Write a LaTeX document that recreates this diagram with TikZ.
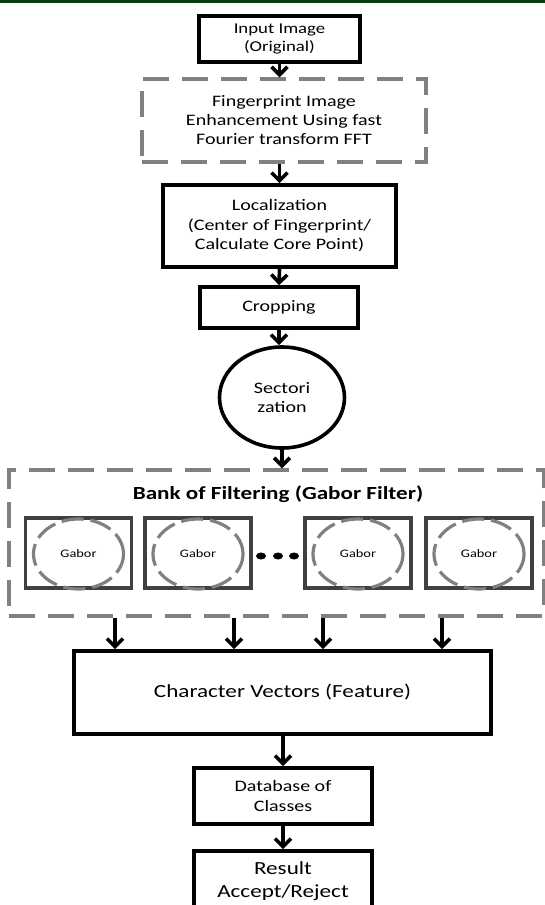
\documentclass[tikz,border=0pt]{standalone}
\usepackage{fontspec}
\setmainfont{Carlito}[FakeStretch=1.25]
\usetikzlibrary{arrows.meta,shapes.geometric}

\definecolor{topgreen}{RGB}{8,62,16}
\definecolor{dashgray}{RGB}{128,128,128}
\definecolor{boxgray}{RGB}{64,64,64}

\tikzset{
  blk/.style={draw=black, line width=3.6pt, inner sep=0pt, align=center, font=\fontsize{16}{19.5}\selectfont},
  bigtxt/.style={font=\fontsize{18.5}{23}\selectfont},
  dbox/.style={draw=dashgray, line width=3.4pt, dash pattern=on 26pt off 13pt, inner sep=0pt, align=center, font=\fontsize{16}{19}\selectfont},
  gbox/.style={draw=boxgray, line width=3.2pt, minimum width=106pt, minimum height=70pt},
  gell/.style={ellipse, draw=dashgray, line width=3.2pt, dash pattern=on 22pt off 7pt, minimum width=90pt, minimum height=70pt, inner sep=0pt, font=\fontsize{11.5}{13}\selectfont},
  arr/.style={-{Straight Barb[length=8pt,width=16pt]}, line width=3.6pt}
}

\begin{document}
\begin{tikzpicture}[x=1pt, y=-1pt]

\clip (0,0) rectangle (545,905);
\fill[topgreen] (0,0) rectangle (545,2.5);

\node[blk, minimum width=161pt, minimum height=46pt, font=\fontsize{15}{18}\selectfont] (inp) at (279.5,39) {Input Image\\(Original)};

\node[dbox, minimum width=284pt, minimum height=83pt] (fft) at (284,120.5) {Fingerprint Image\\Enhancement Using fast\\Fourier transform FFT};

\node[blk, minimum width=233pt, minimum height=82pt] (loc) at (279.5,226) {Localization\\(Center of Fingerprint/\\Calculate Core Point)};

\node[blk, minimum width=158pt, minimum height=41pt] (crop) at (279,307.5) {Cropping};

\node[blk, ellipse, minimum width=125pt, minimum height=101pt] (sect) at (282,397.5) {Sectori\\zation};

\node[dbox, minimum width=535pt, minimum height=146pt] (bank) at (276.5,543) {};
\node[font=\fontsize{18.5}{22}\selectfont\bfseries] (banktitle) at (278,494) {Bank of Filtering (Gabor Filter)};

\foreach \n/\x in {1/78.5, 2/198, 3/358, 4/479} {
  \node[gbox] (g\n) at (\x,553) {};
  \node[gell] (e\n) at (\x,554) {Gabor};
}
\foreach \x in {261,278,294}
  \fill (\x,556) ellipse (5pt and 3.5pt);

\node[blk, bigtxt, minimum width=417pt, minimum height=83pt] (feat) at (282.5,692.5) {Character Vectors (Feature)};

\node[blk, minimum width=178pt, minimum height=56pt] (db) at (283,796) {Database of\\Classes};

\node[blk, bigtxt, minimum width=178pt, minimum height=60pt] (res) at (283,881) {Result\\Accept/Reject};

\draw[arr] (inp.south) -- (inp.south |- fft.north);
\draw[arr] (loc.north |- fft.south) -- (loc.north);
\draw[arr] (loc.south) -- (crop.north);
\draw[arr] (crop.south) -- (crop.south |- sect.north);
\draw[arr] (sect.south) -- (sect.south |- bank.north);

\foreach \i/\x in {1/115, 2/234, 3/323, 4/442} {
  \coordinate (a\i) at (\x,0);
  \draw[arr] (bank.south -| a\i) -- (feat.north -| a\i);
}

\draw[arr] (db.north |- feat.south) -- (db.north);
\draw[arr] (db.south) -- (res.north);

\end{tikzpicture}
\end{document}
